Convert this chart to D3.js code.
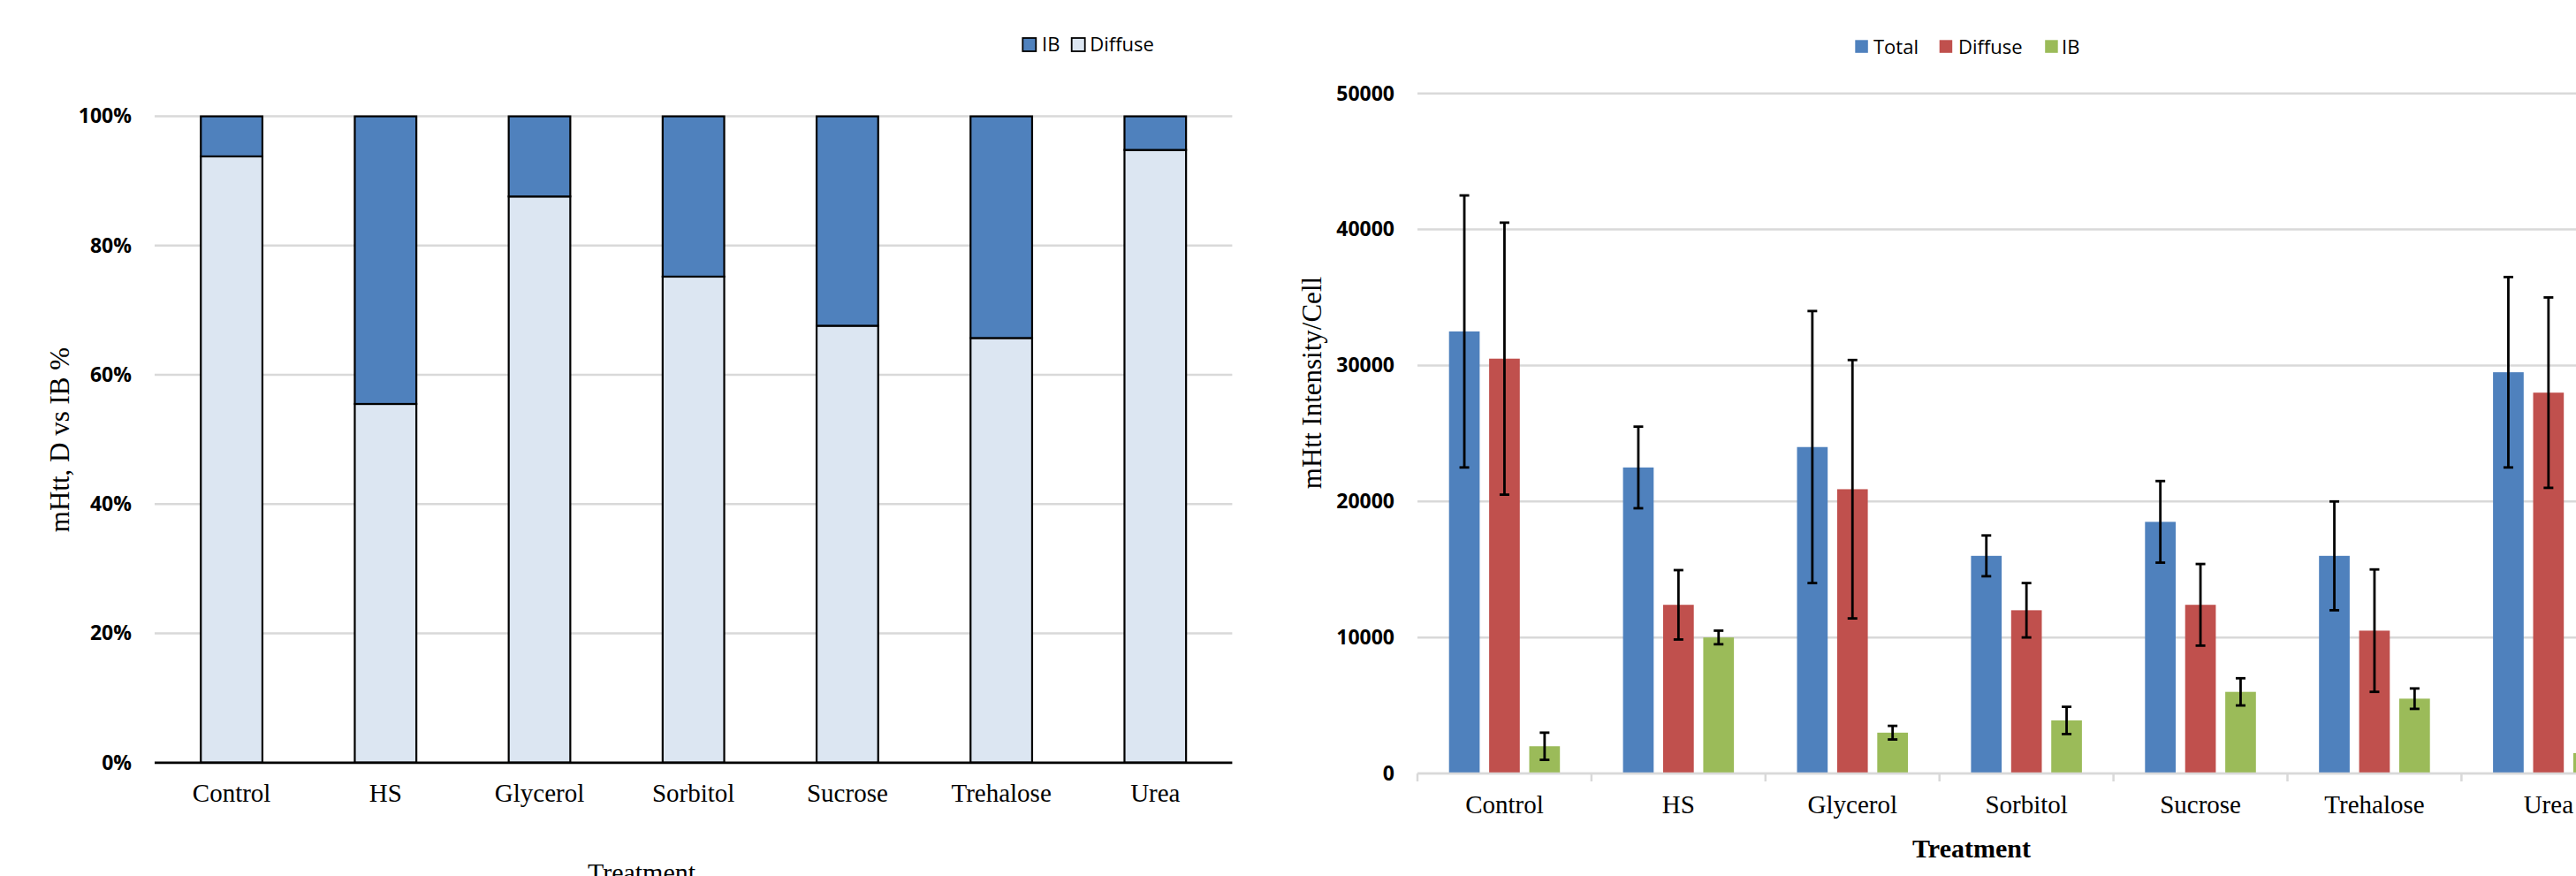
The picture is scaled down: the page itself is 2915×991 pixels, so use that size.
<!DOCTYPE html>
<html>
<head>
<meta charset="utf-8">
<script src="https://cdn.jsdelivr.net/npm/d3@7"></script>
<style>
  body { margin: 0; background: #fff; }
  svg { display: block; }
</style>
</head>
<body>
<svg id="chart" width="2915" height="991"></svg>
<script>
// categories shared by both panels
let treatments = ["Control", "HS", "Glycerol", "Sorbitol", "Sucrose", "Trehalose", "Urea"];

// left panel: fraction diffuse vs IB
let diffusePct = [0.938, 0.555, 0.876, 0.752, 0.676, 0.657, 0.948];
let ibPct = diffusePct.map(d => 1 - d);
let pctTicks = [0, 0.2, 0.4, 0.6, 0.8, 1.0];

// right panel: intensity per cell, with error bars
let seriesNames = ["Total", "Diffuse", "IB"];
let totalVals = [32500, 22500, 24000, 16000, 18500, 16000, 29500];
let totalErr  = [10000, 3000, 10000, 1500, 3000, 4000, 7000];
let diffuseVals = [30500, 12400, 20900, 12000, 12400, 10500, 28000];
let diffuseErr  = [10000, 2550, 9500, 2000, 3000, 4500, 7000];
let ibVals = [2000, 10000, 3000, 3900, 6000, 5500, 1500];
let ibErr  = [1000, 500, 500, 1000, 1000, 750, 500];
let intensityTicks = [0, 10000, 20000, 30000, 40000, 50000];

let svg = d3.select("#chart");
let gridColor = "#d9d9d9";
let tickFont = "'Open Sans', 'DejaVu Sans', sans-serif";
let serif = "'Liberation Serif', 'Times New Roman', serif";

// ---------------- left chart ----------------
let left = svg.append("g").attr("id", "left");
let xL = d3.scaleBand().domain(treatments).range([175, 1394.4]).paddingInner(0.6).paddingOuter(0.3);
let yL = d3.scaleLinear().domain([0, 1]).range([862.8, 131.6]);

left.append("g").selectAll("line")
    .data(pctTicks.filter(d => d > 0))
    .join("line")
    .attr("x1", 175).attr("x2", 1394.4)
    .attr("y1", d => yL(d)).attr("y2", d => yL(d))
    .attr("stroke", gridColor).attr("stroke-width", 2.5);

let yAxisL = left.append("g")
    .attr("transform", "translate(149,0)")
    .call(d3.axisLeft(yL).tickValues(pctTicks).tickFormat(d3.format(".0%")).tickSize(0).tickPadding(0));
yAxisL.select(".domain").remove();
yAxisL.selectAll("text")
    .attr("font-family", tickFont).attr("font-size", 23).attr("font-weight", "bold")
    .attr("fill", "#000");

let stackData = treatments.map((t, i) => ({ name: t, Diffuse: diffusePct[i], IB: ibPct[i] }));
let stacked = d3.stack().keys(["Diffuse", "IB"])(stackData);
let leftColors = { Diffuse: "#dce6f2", IB: "#4f81bd" };

left.append("g").selectAll("g")
    .data(stacked)
    .join("g")
    .attr("fill", d => leftColors[d.key])
    .selectAll("rect")
    .data(d => d)
    .join("rect")
    .attr("x", d => xL(d.data.name))
    .attr("width", xL.bandwidth())
    .attr("y", d => yL(d[1]))
    .attr("height", d => yL(d[0]) - yL(d[1]))
    .attr("stroke", "#000").attr("stroke-width", 2.2);

// baseline
left.append("line")
    .attr("x1", 175).attr("x2", 1394.4)
    .attr("y1", yL(0)).attr("y2", yL(0))
    .attr("stroke", "#000").attr("stroke-width", 2.8);

let xAxisL = left.append("g")
    .attr("transform", `translate(0,${yL(0)})`)
    .call(d3.axisBottom(xL).tickSize(0));
xAxisL.select(".domain").remove();
xAxisL.selectAll("text")
    .attr("y", 44.5).attr("dy", null)
    .attr("font-family", serif).attr("font-size", 29).attr("fill", "#000");

left.append("text")
    .attr("transform", "translate(77.5,497.5) rotate(-90)")
    .attr("text-anchor", "middle")
    .attr("font-family", serif).attr("font-size", 31)
    .text("mHtt, D vs IB %");

// the reference crops this title at the bottom edge
left.append("text")
    .attr("x", 726).attr("y", 996.5)
    .attr("text-anchor", "middle")
    .attr("font-family", serif).attr("font-size", 30)
    .text("Treatment");

// legend
let legL = left.append("g").selectAll("g")
    .data([{ key: "IB", x: 1157.3, tx: 1179 }, { key: "Diffuse", x: 1212.7, tx: 1233.3 }])
    .join("g");
legL.append("rect")
    .attr("x", d => d.x).attr("y", 43).attr("width", 15).attr("height", 15)
    .attr("fill", d => leftColors[d.key]).attr("stroke", "#000").attr("stroke-width", 1.8);
legL.append("text")
    .attr("x", d => d.tx).attr("y", 57.5)
    .attr("font-family", tickFont).attr("font-size", 22).attr("fill", "#000")
    .text(d => d.key);

// ---------------- right chart ----------------
let right = svg.append("g").attr("id", "right");
let band = 196.9;
let xR = d3.scaleBand().domain(treatments).range([1604, 1604 + band * treatments.length]);
let xSub = d3.scaleBand().domain(seriesNames).range([35.7, 161.2]).paddingInner(0.236);
let yR = d3.scaleLinear().domain([0, 50000]).range([875, 105.7]);
let rightColors = { Total: "#4f81bd", Diffuse: "#c0504d", IB: "#9bbb59" };

right.append("g").selectAll("line")
    .data(intensityTicks)
    .join("line")
    .attr("x1", 1604).attr("x2", 2915)
    .attr("y1", d => yR(d)).attr("y2", d => yR(d))
    .attr("stroke", gridColor).attr("stroke-width", 2.5);

let yAxisR = right.append("g")
    .attr("transform", "translate(1578,0)")
    .call(d3.axisLeft(yR).tickValues(intensityTicks).tickFormat(d3.format("d")).tickSize(0).tickPadding(0));
yAxisR.select(".domain").remove();
yAxisR.selectAll("text")
    .attr("font-family", tickFont).attr("font-size", 23).attr("font-weight", "bold")
    .attr("fill", "#000");

let vals = { Total: totalVals, Diffuse: diffuseVals, IB: ibVals };
let errs = { Total: totalErr, Diffuse: diffuseErr, IB: ibErr };
let barData = [];
treatments.forEach((t, i) => {
    seriesNames.forEach(s => {
        barData.push({ cat: t, series: s, value: vals[s][i], err: errs[s][i] });
    });
});

right.append("g").selectAll("rect")
    .data(barData)
    .join("rect")
    .attr("x", d => xR(d.cat) + xSub(d.series))
    .attr("width", xSub.bandwidth())
    .attr("y", d => yR(d.value))
    .attr("height", d => yR(0) - yR(d.value))
    .attr("fill", d => rightColors[d.series]);

// error bars
let eb = right.append("g").selectAll("g")
    .data(barData)
    .join("g")
    .attr("stroke", "#000").attr("stroke-width", 2.8);
let cx = d => xR(d.cat) + xSub(d.series) + xSub.bandwidth() / 2;
eb.append("line")
    .attr("x1", cx).attr("x2", cx)
    .attr("y1", d => yR(d.value + d.err)).attr("y2", d => yR(d.value - d.err));
eb.append("line")
    .attr("x1", d => cx(d) - 5.5).attr("x2", d => cx(d) + 5.5)
    .attr("y1", d => yR(d.value + d.err)).attr("y2", d => yR(d.value + d.err));
eb.append("line")
    .attr("x1", d => cx(d) - 5.5).attr("x2", d => cx(d) + 5.5)
    .attr("y1", d => yR(d.value - d.err)).attr("y2", d => yR(d.value - d.err));

// x axis: gray line, ticks at category boundaries
right.append("line")
    .attr("x1", 1604).attr("x2", 2915)
    .attr("y1", yR(0)).attr("y2", yR(0))
    .attr("stroke", gridColor).attr("stroke-width", 2.5);
right.append("g").selectAll("line")
    .data(treatments)
    .join("line")
    .attr("x1", d => xR(d)).attr("x2", d => xR(d))
    .attr("y1", yR(0)).attr("y2", yR(0) + 9)
    .attr("stroke", gridColor).attr("stroke-width", 2.5);

let xAxisR = right.append("g")
    .attr("transform", `translate(0,${yR(0)})`)
    .call(d3.axisBottom(xR).tickSize(0));
xAxisR.select(".domain").remove();
xAxisR.selectAll("text")
    .attr("y", 45).attr("dy", null)
    .attr("font-family", serif).attr("font-size", 29).attr("fill", "#000");

right.append("text")
    .attr("transform", "translate(1495,433) rotate(-90)")
    .attr("text-anchor", "middle")
    .attr("font-family", serif).attr("font-size", 31)
    .text("mHtt Intensity/Cell");

right.append("text")
    .attr("x", 2231).attr("y", 970.3)
    .attr("text-anchor", "middle")
    .attr("font-family", serif).attr("font-size", 30).attr("font-weight", "bold")
    .text("Treatment");

let legR = right.append("g").selectAll("g")
    .data([{ key: "Total", x: 2099.3, tx: 2120 }, { key: "Diffuse", x: 2194.7, tx: 2216 }, { key: "IB", x: 2314.2, tx: 2333 }])
    .join("g");
legR.append("rect")
    .attr("x", d => d.x).attr("y", 45.3).attr("width", 14.5).attr("height", 14.5)
    .attr("fill", d => rightColors[d.key]);
legR.append("text")
    .attr("x", d => d.tx).attr("y", 60.5)
    .attr("font-family", tickFont).attr("font-size", 22).attr("fill", "#000")
    .text(d => d.key);
</script>
</body>
</html>
